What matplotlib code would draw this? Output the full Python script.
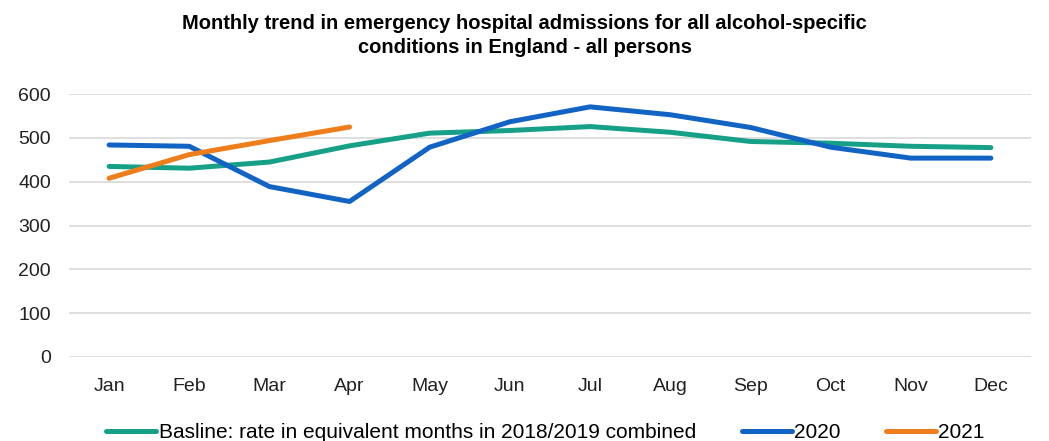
import matplotlib
matplotlib.use("Agg")
import matplotlib.pyplot as plt

plt.rcParams['font.family'] = ['Liberation Sans', 'DejaVu Sans']

months = ['Jan', 'Feb', 'Mar', 'Apr', 'May', 'Jun', 'Jul', 'Aug', 'Sep', 'Oct', 'Nov', 'Dec']
baseline = [435, 431, 445, 482, 511, 517, 526, 513, 492, 488, 481, 478]
y2020 = [484, 481, 389, 355, 479, 537, 571, 553, 524, 479, 454, 454]
y2021 = [408, 462, 494, 525]

labels = ['Basline: rate in equivalent months in 2018/2019 combined', '2020', '2021']
colors = ['#17a088', '#1264c4', '#ee7d1b']

fig = plt.figure(figsize=(10.49, 4.41), dpi=100)
ax = fig.add_axes([0.0658, 0.1905, 0.917, 0.596])

x = list(range(len(months)))
ax.plot(x, baseline, color=colors[0], lw=3.6, label=labels[0], solid_capstyle='round')
ax.plot(x, y2020, color=colors[1], lw=3.6, label=labels[1], solid_capstyle='round')
ax.plot(x[:len(y2021)], y2021, color=colors[2], lw=3.6, label=labels[2], solid_capstyle='round')

ax.set_xlim(-0.5, 11.5)
ax.set_ylim(0, 600)
ax.set_yticks(range(0, 601, 100))
ax.set_xticks(x)
ax.set_xticklabels(months)
ax.tick_params(length=0, labelsize=14, colors='#222222')
ax.tick_params(axis='x', pad=15)
ax.tick_params(axis='y', pad=13)
ax.grid(axis='y', color='#d9d9d9', lw=1.2)
ax.set_axisbelow(True)
for s in ax.spines.values():
    s.set_visible(False)

fig.text(0.5, 0.968, 'Monthly trend in emergency hospital admissions for all alcohol-specific\nconditions in England - all persons',
         ha='center', va='top', fontsize=14.5, fontweight='bold', linespacing=1.35)

fig.legend(loc='lower center', bbox_to_anchor=(0.52, -0.045), ncol=3, frameon=False,
           fontsize=15, handlelength=2.4, handletextpad=0.1, columnspacing=2.2)

fig.savefig('out.png', dpi=100)
